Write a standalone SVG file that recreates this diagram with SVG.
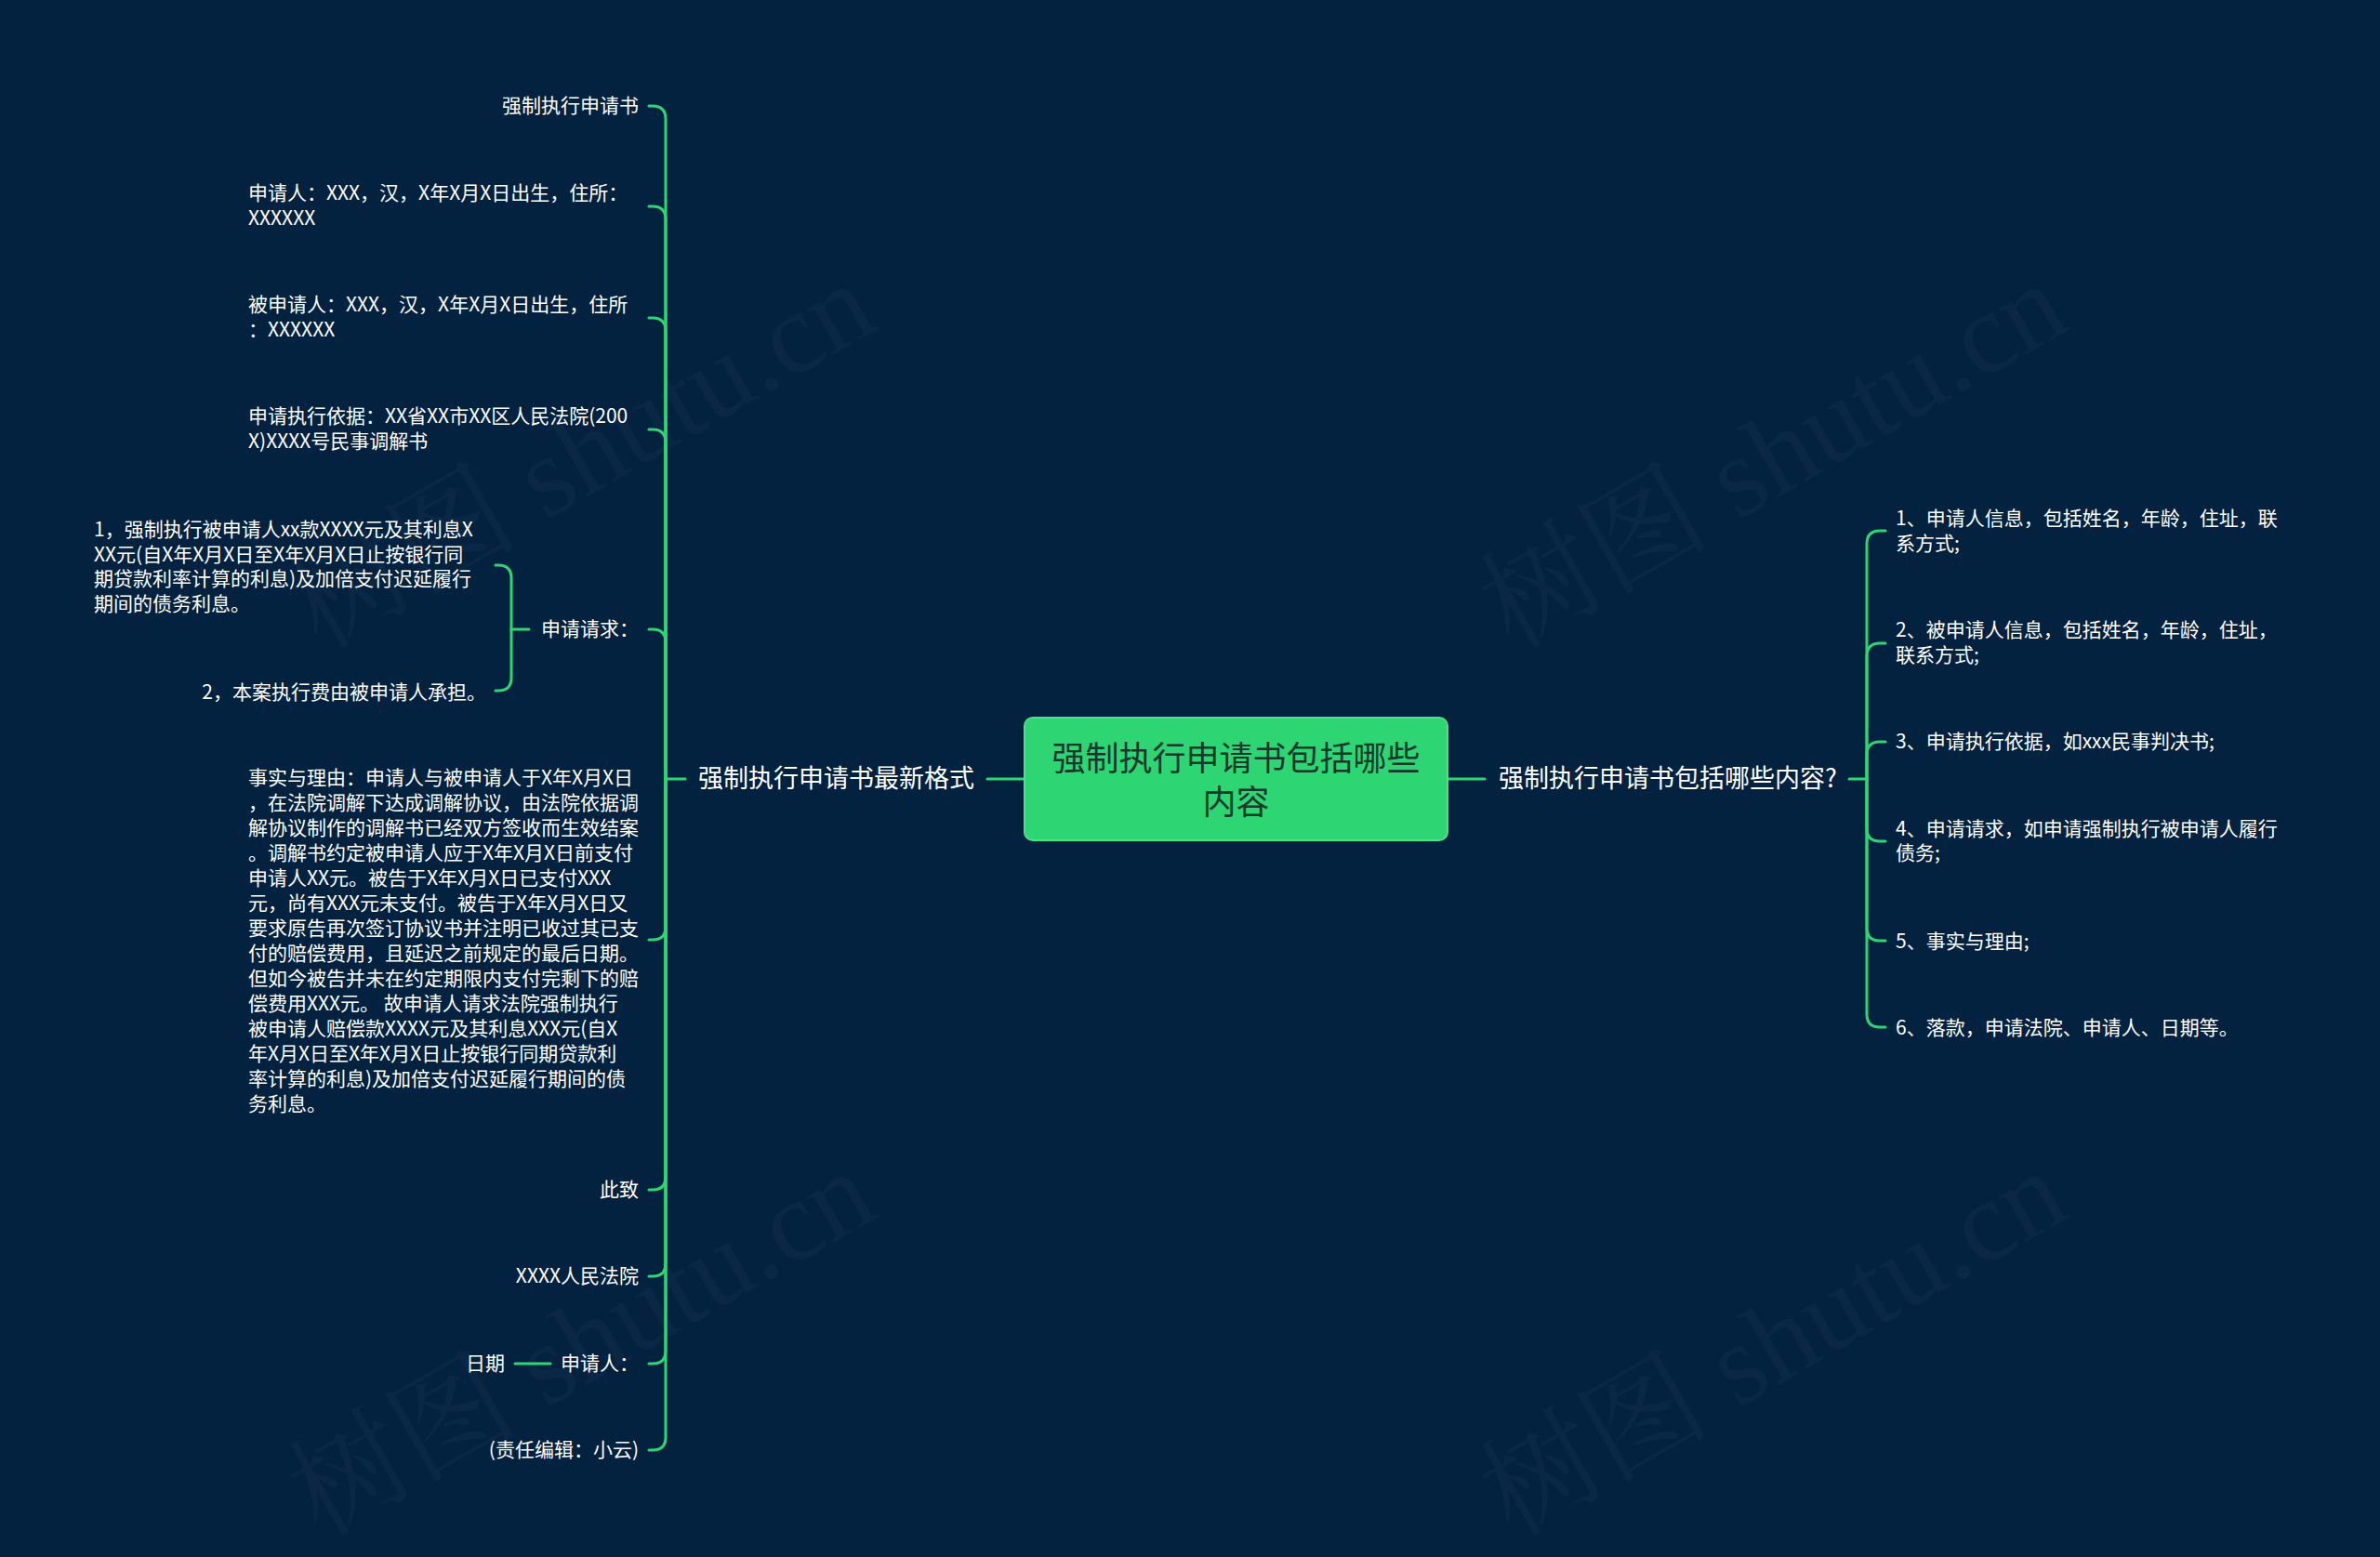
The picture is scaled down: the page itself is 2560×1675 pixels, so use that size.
<svg xmlns="http://www.w3.org/2000/svg" width="2560" height="1675" viewBox="0 0 2560 1675">
<style>
.bg{fill:#03223f}
.wm{font-family:"Liberation Serif","Noto Serif CJK SC","Noto Sans CJK SC",serif;font-size:124px;fill:#ffffff;fill-opacity:0.03}
.c{fill:none;stroke:#2ed573;stroke-width:3;stroke-linecap:round}
.t{font-family:"Noto Sans CJK SC","Noto Sans",sans-serif;fill:#ffffff}
.leaf{font-size:21px}
.sub{font-size:27px}
.root{font-size:36px;fill:#15392a}
</style>
<rect class="bg" x="0" y="0" width="2560" height="1675"/>
<g id="watermarks">
<text class="wm" transform="translate(345,700) rotate(-30)">树图 shutu.cn</text>
<text class="wm" transform="translate(1627,700) rotate(-30)">树图 shutu.cn</text>
<text class="wm" transform="translate(345,1655) rotate(-30)">树图 shutu.cn</text>
<text class="wm" transform="translate(1627,1655) rotate(-30)">树图 shutu.cn</text>
</g>
<g id="connectors">
<path class="c" d="M1102,838 H1062"/>
<path class="c" d="M1557,838 H1597"/>
<path class="c" d="M737,838 H716"/>
<path class="c" d="M716,838 V128 Q716,114 702,114 H698"/>
<path class="c" d="M716,838 V236 Q716,222 702,222 H698"/>
<path class="c" d="M716,838 V356 Q716,342 702,342 H698"/>
<path class="c" d="M716,838 V476 Q716,462 702,462 H698"/>
<path class="c" d="M716,838 V691 Q716,677 702,677 H698"/>
<path class="c" d="M716,838 V997 Q716,1011 702,1011 H698"/>
<path class="c" d="M716,838 V1266 Q716,1280 702,1280 H698"/>
<path class="c" d="M716,838 V1359 Q716,1373 702,1373 H698"/>
<path class="c" d="M716,838 V1453 Q716,1467 702,1467 H698"/>
<path class="c" d="M716,838 V1546 Q716,1560 702,1560 H698"/>
<path class="c" d="M569,677 H550"/>
<path class="c" d="M550,677 V622 Q550,608 536,608 H533"/>
<path class="c" d="M550,677 V729 Q550,743 536,743 H533"/>
<path class="c" d="M592,1467 H554"/>
<path class="c" d="M1989,838 H2008"/>
<path class="c" d="M2008,838 V585 Q2008,571 2022,571 H2028"/>
<path class="c" d="M2008,838 V706 Q2008,692 2022,692 H2028"/>
<path class="c" d="M2008,838 V812 Q2008,798 2022,798 H2028"/>
<path class="c" d="M2008,838 V891 Q2008,905 2022,905 H2028"/>
<path class="c" d="M2008,838 V998 Q2008,1012 2022,1012 H2028"/>
<path class="c" d="M2008,838 V1091 Q2008,1105 2022,1105 H2028"/>
</g>
<g id="root">
<rect x="1102" y="772" width="455" height="132" rx="9" fill="#2ed573" stroke="#4ee08a" stroke-width="2"/>
<text class="t root" x="1329.5" text-anchor="middle"><tspan x="1329.5" y="829">强制执行申请书包括哪些</tspan><tspan x="1329.5" y="876">内容</tspan></text>
</g>
<g id="left-branch"><text class="t sub" x="751" y="847">强制执行申请书最新格式</text></g>
<g id="right-branch"><text class="t sub" x="1612" y="847">强制执行申请书包括哪些内容?</text></g>
<g id="l1"><text class="t leaf" x="687" y="121" text-anchor="end">强制执行申请书</text></g>
<g id="l2"><text class="t leaf"><tspan x="267" y="215">申请人：XXX，汉，X年X月X日出生，住所：</tspan><tspan x="267" y="242">XXXXXX</tspan></text></g>
<g id="l3"><text class="t leaf"><tspan x="267" y="335">被申请人：XXX，汉，X年X月X日出生，住所</tspan><tspan x="267" y="362">：XXXXXX</tspan></text></g>
<g id="l4"><text class="t leaf"><tspan x="267" y="455">申请执行依据：XX省XX市XX区人民法院(200</tspan><tspan x="267" y="482">X)XXXX号民事调解书</tspan></text></g>
<g id="l5"><text class="t leaf" x="687" y="684" text-anchor="end">申请请求：</text></g>
<g id="l5a"><text class="t leaf"><tspan x="101" y="577">1，强制执行被申请人xx款XXXX元及其利息X</tspan><tspan x="101" y="604">XX元(自X年X月X日至X年X月X日止按银行同</tspan><tspan x="101" y="630">期贷款利率计算的利息)及加倍支付迟延履行</tspan><tspan x="101" y="657">期间的债务利息。</tspan></text></g>
<g id="l5b"><text class="t leaf" x="523" y="752" text-anchor="end">2，本案执行费由被申请人承担。</text></g>
<g id="l6"><text class="t leaf">
<tspan x="267" y="844">事实与理由：申请人与被申请人于X年X月X日</tspan>
<tspan x="267" y="871">，在法院调解下达成调解协议，由法院依据调</tspan>
<tspan x="267" y="898">解协议制作的调解书已经双方签收而生效结案</tspan>
<tspan x="267" y="925">。调解书约定被申请人应于X年X月X日前支付</tspan>
<tspan x="267" y="952">申请人XX元。被告于X年X月X日已支付XXX</tspan>
<tspan x="267" y="979">元，尚有XXX元未支付。被告于X年X月X日又</tspan>
<tspan x="267" y="1006">要求原告再次签订协议书并注明已收过其已支</tspan>
<tspan x="267" y="1033">付的赔偿费用，且延迟之前规定的最后日期。</tspan>
<tspan x="267" y="1060">但如今被告并未在约定期限内支付完剩下的赔</tspan>
<tspan x="267" y="1087">偿费用XXX元。 故申请人请求法院强制执行</tspan>
<tspan x="267" y="1114">被申请人赔偿款XXXX元及其利息XXX元(自X</tspan>
<tspan x="267" y="1141">年X月X日至X年X月X日止按银行同期贷款利</tspan>
<tspan x="267" y="1168">率计算的利息)及加倍支付迟延履行期间的债</tspan>
<tspan x="267" y="1195">务利息。</tspan>
</text></g>
<g id="l7"><text class="t leaf" x="687" y="1287" text-anchor="end">此致</text></g>
<g id="l8"><text class="t leaf" x="687" y="1380" text-anchor="end">XXXX人民法院</text></g>
<g id="l9"><text class="t leaf" x="687" y="1474" text-anchor="end">申请人：</text></g>
<g id="l9a"><text class="t leaf" x="543" y="1474" text-anchor="end">日期</text></g>
<g id="l10"><text class="t leaf" x="687" y="1567" text-anchor="end">(责任编辑：小云)</text></g>
<g id="r1"><text class="t leaf"><tspan x="2039" y="565">1、申请人信息，包括姓名，年龄，住址，联</tspan><tspan x="2039" y="592">系方式;</tspan></text></g>
<g id="r2"><text class="t leaf"><tspan x="2039" y="685">2、被申请人信息，包括姓名，年龄，住址，</tspan><tspan x="2039" y="712">联系方式;</tspan></text></g>
<g id="r3"><text class="t leaf" x="2039" y="805">3、申请执行依据，如xxx民事判决书;</text></g>
<g id="r4"><text class="t leaf"><tspan x="2039" y="899">4、申请请求，如申请强制执行被申请人履行</tspan><tspan x="2039" y="925">债务;</tspan></text></g>
<g id="r5"><text class="t leaf" x="2039" y="1020">5、事实与理由;</text></g>
<g id="r6"><text class="t leaf" x="2039" y="1113">6、落款，申请法院、申请人、日期等。</text></g>
</svg>
